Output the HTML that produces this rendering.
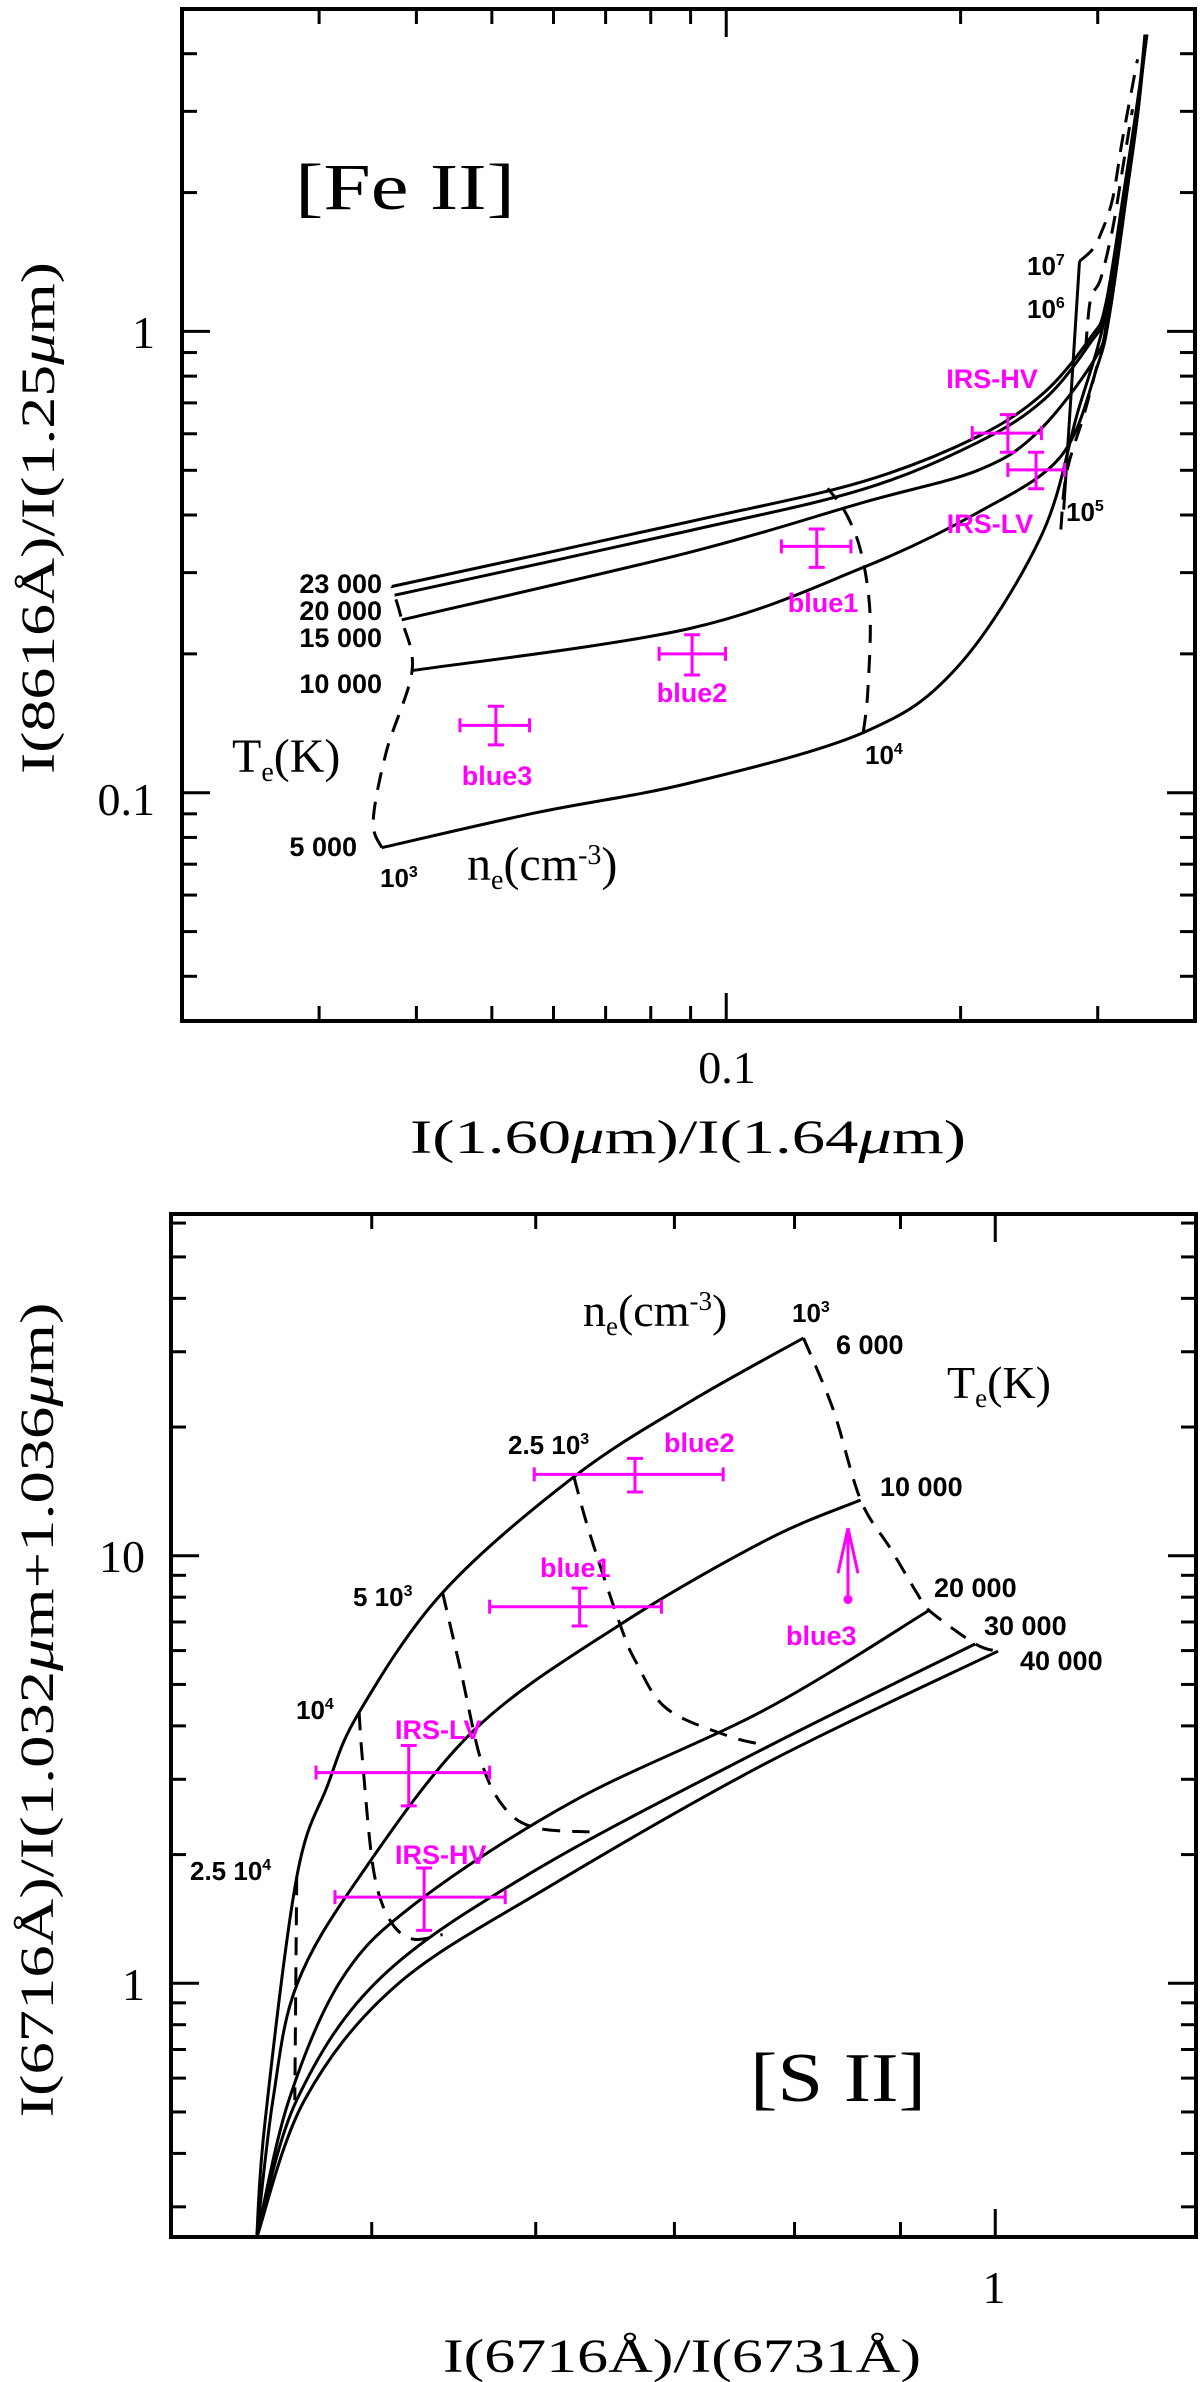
<!DOCTYPE html>
<html><head><meta charset="utf-8"><title>[Fe II] and [S II] diagnostic diagrams</title>
<style>
html,body{margin:0;padding:0;background:#fff;}
svg{display:block;}
.serif{font-family:"Liberation Serif",serif;}
.lab{font-family:"Liberation Sans",sans-serif;font-weight:bold;font-size:27px;fill:#000;}
.sup{font-family:"Liberation Sans",sans-serif;font-weight:bold;font-size:26px;fill:#000;}
.mag{font-family:"Liberation Sans",sans-serif;font-weight:bold;font-size:27px;fill:#ff00ff;}
</style></head>
<body>
<svg id="fig" width="1200" height="2382" viewBox="0 0 1200 2382" xmlns="http://www.w3.org/2000/svg">
<rect width="1200" height="2382" fill="#fff"/>
<g id="p1"></g>
<g id="p2"></g>

<g>
<text class="serif" x="295" y="209" font-size="66" textLength="220" lengthAdjust="spacingAndGlyphs">[Fe II]</text>
<text class="serif" font-size="48" transform="translate(54,518) rotate(-90)" text-anchor="middle" textLength="512" lengthAdjust="spacingAndGlyphs">I(8616Å)/I(1.25<tspan font-style="italic">μ</tspan>m)</text>
<text class="serif" font-size="48" x="410" y="1153" textLength="556" lengthAdjust="spacingAndGlyphs">I(1.60<tspan font-style="italic">μ</tspan>m)/I(1.64<tspan font-style="italic">μ</tspan>m)</text>
<text class="serif" font-size="46" x="155" y="348" text-anchor="end">1</text>
<text class="serif" font-size="46" x="155" y="815" text-anchor="end">0.1</text>
<text class="serif" font-size="46" x="727" y="1083" text-anchor="middle">0.1</text>
<text class="serif" font-size="48" x="232" y="772">T<tspan font-size="28" dy="9">e</tspan><tspan dy="-9">(K)</tspan></text>
<text class="serif" font-size="48" x="467" y="880">n<tspan font-size="28" dy="9">e</tspan><tspan dy="-9">(cm</tspan><tspan font-size="28" dy="-16">-3</tspan><tspan dy="16">)</tspan></text>
<text class="lab" x="382" y="593" text-anchor="end">23 000</text>
<text class="lab" x="382" y="620" text-anchor="end">20 000</text>
<text class="lab" x="382" y="647" text-anchor="end">15 000</text>
<text class="lab" x="382" y="693" text-anchor="end">10 000</text>
<text class="lab" x="357" y="856" text-anchor="end">5 000</text>
<text class="sup" x="380" y="887">10<tspan font-size="16" dy="-10">3</tspan></text>
<text class="sup" x="865" y="764">10<tspan font-size="16" dy="-10">4</tspan></text>
<text class="sup" x="1066" y="521">10<tspan font-size="16" dy="-10">5</tspan></text>
<text class="sup" x="1027" y="318">10<tspan font-size="16" dy="-10">6</tspan></text>
<text class="sup" x="1027" y="275">10<tspan font-size="16" dy="-10">7</tspan></text>
<text class="mag" x="823" y="612" text-anchor="middle">blue1</text>
<text class="mag" x="692" y="702" text-anchor="middle">blue2</text>
<text class="mag" x="497" y="785" text-anchor="middle">blue3</text>
<text class="mag" x="992" y="388" text-anchor="middle">IRS-HV</text>
<text class="mag" x="990" y="533" text-anchor="middle">IRS-LV</text>
</g>

<g>
<text class="serif" x="750" y="2101" font-size="70" textLength="176" lengthAdjust="spacingAndGlyphs">[S II]</text>
<text class="serif" font-size="48" transform="translate(53,1710) rotate(-90)" text-anchor="middle" textLength="815" lengthAdjust="spacingAndGlyphs">I(6716Å)/I(1.032<tspan font-style="italic">μ</tspan>m+1.036<tspan font-style="italic">μ</tspan>m)</text>
<text class="serif" font-size="48" x="443" y="2372" textLength="478" lengthAdjust="spacingAndGlyphs">I(6716Å)/I(6731Å)</text>
<text class="serif" font-size="46" x="145" y="1572" text-anchor="end">10</text>
<text class="serif" font-size="46" x="145" y="2000" text-anchor="end">1</text>
<text class="serif" font-size="46" x="994" y="2303" text-anchor="middle">1</text>
<text class="serif" font-size="46" x="583" y="1326">n<tspan font-size="27" dy="9">e</tspan><tspan dy="-9">(cm</tspan><tspan font-size="27" dy="-16">-3</tspan><tspan dy="16">)</tspan></text>
<text class="serif" font-size="46" x="947" y="1398">T<tspan font-size="27" dy="9">e</tspan><tspan dy="-9">(K)</tspan></text>
<text class="sup" x="792" y="1322">10<tspan font-size="16" dy="-10">3</tspan></text>
<text class="sup" x="508" y="1454">2.5 10<tspan font-size="16" dy="-10">3</tspan></text>
<text class="sup" x="353" y="1606">5 10<tspan font-size="16" dy="-10">3</tspan></text>
<text class="sup" x="296" y="1719">10<tspan font-size="16" dy="-10">4</tspan></text>
<text class="sup" x="190" y="1880">2.5 10<tspan font-size="16" dy="-10">4</tspan></text>
<text class="lab" x="836" y="1354">6 000</text>
<text class="lab" x="880" y="1496">10 000</text>
<text class="lab" x="934" y="1597">20 000</text>
<text class="lab" x="984" y="1635">30 000</text>
<text class="lab" x="1020" y="1670">40 000</text>
<text class="mag" x="664" y="1452">blue2</text>
<text class="mag" x="540" y="1577">blue1</text>
<text class="mag" x="786" y="1645">blue3</text>
<text class="mag" x="395" y="1739">IRS-LV</text>
<text class="mag" x="395" y="1864">IRS-HV</text>
</g>
</svg>
<script>
// ---------- Fe II panel data ----------
var feT5000  = [[0.0361,0.076],[0.057,0.0905],[0.0898,0.105],[0.150,0.135],[0.198,0.187],[0.2536,0.359],[0.2827,0.667],[0.306,1.06],[0.325,2.0],[0.337,3.0],[0.345,4.4]];
var feT10000 = [[0.0395,0.184],[0.0898,0.227],[0.150,0.308],[0.2105,0.405],[0.269,0.536],[0.2996,0.84],[0.311,1.1],[0.327,2.0],[0.338,3.0],[0.345,4.4]];
var feT15000 = [[0.0383,0.237],[0.0898,0.332],[0.150,0.426],[0.2105,0.50],[0.251,0.604],[0.2972,0.87],[0.309,1.08],[0.326,2.0],[0.338,3.0],[0.346,4.4]];
var feT20000 = [[0.0375,0.268],[0.0898,0.370],[0.150,0.455],[0.2105,0.575],[0.256,0.712],[0.2937,0.946],[0.308,1.12],[0.325,2.0],[0.337,3.0],[0.347,4.4]];
var feT23000 = [[0.0372,0.280],[0.0898,0.387],[0.150,0.473],[0.2105,0.592],[0.256,0.737],[0.2937,0.97],[0.307,1.14],[0.324,2.0],[0.336,3.0],[0.347,4.4]];
var feN1e3 = [[0.0361,0.076],[0.0352,0.0869],[0.0366,0.1227],[0.0395,0.184],[0.0383,0.237],[0.0375,0.268],[0.0372,0.280]];
var feN1e4 = [[0.150,0.135],[0.152,0.166],[0.153,0.245],[0.149,0.332],[0.1425,0.403],[0.135,0.457]];
var feN1e5 = [[0.269,0.372],[0.2736,0.494],[0.2886,0.667],[0.3016,0.883],[0.3088,1.01]];
var feN1e6solid = [[0.2713,0.411],[0.2843,1.419]];
var feN1e6 = [[0.2894,0.914],[0.2937,1.173],[0.3025,1.297],[0.3134,1.664],[0.3228,2.245],[0.3325,3.03]];
var feN1e7 = [[0.2843,1.419],[0.2954,1.506],[0.3025,1.623],[0.3134,1.933],[0.3228,2.61],[0.3375,3.89]];
var fePtNames = ['blue1','blue2','blue3','irs-hv','irs-lv'];
var fePtX   = [0.1307,0.0904,0.0506,0.230,0.250];
var fePtXlo = [0.1177,0.0820,0.0455,0.207,0.230];
var fePtXhi = [0.1446,0.0998,0.0559,0.254,0.272];
var fePtY   = [0.342,0.200,0.140,0.602,0.501];
var fePtYlo = [0.308,0.180,0.127,0.547,0.456];
var fePtYhi = [0.373,0.220,0.154,0.660,0.547];
var feXTicksMajor = [0.1];
var feXTicksMinor = [0.03,0.04,0.05,0.06,0.07,0.08,0.09,0.2,0.3];
var feYTicksMajor = [0.1,1];
var feYTicksMinor = [0.04,0.05,0.06,0.07,0.08,0.09,0.2,0.3,0.4,0.5,0.6,0.7,0.8,0.9,2,3,4];

// ---------- S II panel data ----------
var sT6000  = [[0.440,0.254],[0.444,0.471],[0.460,1.77],[0.476,2.90],[0.493,4.30],[0.541,8.20],[0.626,15.3],[0.712,22.9],[0.808,32.3]];
var sT10000 = [[0.440,0.254],[0.448,0.533],[0.460,0.99],[0.493,1.77],[0.560,3.90],[0.659,6.90],[0.776,10.9],[0.861,13.5]];
var sT20000 = [[0.440,0.254],[0.456,0.533],[0.484,1.03],[0.527,1.56],[0.626,2.67],[0.776,4.39],[0.929,7.45]];
var sT30000 = [[0.440,0.254],[0.460,0.533],[0.505,1.03],[0.600,1.84],[0.776,3.57],[0.978,6.22]];
var sT40000 = [[0.440,0.254],[0.464,0.533],[0.514,0.99],[0.610,1.69],[0.776,3.28],[1.003,5.98]];
var sN1e3   = [[0.808,32.3],[0.835,22.0],[0.861,13.5],[0.890,10.4],[0.917,8.15],[0.929,7.45],[0.978,6.22],[1.003,5.98]];
var sN2p5e3 = [[0.626,15.3],[0.637,11.3],[0.659,6.9],[0.671,5.62],[0.694,4.39],[0.743,3.79],[0.776,3.6]];
var sN5e3   = [[0.541,8.20],[0.552,5.39],[0.565,3.28],[0.580,2.56],[0.600,2.31],[0.637,2.26]];
var sN1e4   = [[0.493,4.30],[0.495,3.28],[0.501,1.84],[0.510,1.41],[0.523,1.27],[0.541,1.30]];
var sN2p5e4 = [[0.460,1.77],[0.459,0.533]];
var sPtNames = ['blue2','blue1','irs-lv','irs-hv'];
var sPtX   = [0.670,0.630,0.521,0.530];
var sPtXlo = [0.599,0.570,0.470,0.480];
var sPtXhi = [0.739,0.690,0.570,0.580];
var sPtY   = [15.5,7.6,3.11,1.59];
var sPtYlo = [14.1,6.85,2.6,1.33];
var sPtYhi = [16.9,8.4,3.6,1.86];
var sLimX = [0.849];
var sLimY = [7.9];
var sLimTop = [11.6];
var sXTicksMajor = [1];
var sXTicksMinor = [0.5,0.6,0.7,0.8,0.9];
var sYTicksMajor = [1,10];
var sYTicksMinor = [0.3,0.4,0.5,0.6,0.7,0.8,0.9,2,3,4,5,6,7,8,9,20,30,40,50,60];

var NS = 'http://www.w3.org/2000/svg';
function mk(tag, parent, attrs) {
  var e = document.createElementNS(NS, tag);
  for (var k in attrs) e.setAttribute(k, attrs[k]);
  parent.appendChild(e);
  return e;
}
function logAxis(p0, p1, v0, v1) {
  var a = Math.log10(v0), b = Math.log10(v1);
  return function (v) { return p0 + (p1 - p0) * (Math.log10(v) - a) / (b - a); };
}

function panel(g, box, X, Y, xMaj, xMin, yMaj, yMin, prefix) {
  var L = box[0], R = box[1], T = box[2], B = box[3];
  function tick(x1, y1, x2, y2, nm) {
    var t = mk('line', g, {x1: x1, y1: y1, x2: x2, y2: y2, stroke: '#000', 'stroke-width': 3});
    
    
  }
  xMaj.forEach(function (v) { var x = X(v); tick(x, B, x, B - 28, prefix + '-x-major-tick'); tick(x, T, x, T + 28, prefix + '-x-major-tick-top'); });
  xMin.forEach(function (v) { var x = X(v); tick(x, B, x, B - 15, prefix + '-x-minor-tick'); tick(x, T, x, T + 15, prefix + '-x-minor-tick-top'); });
  yMaj.forEach(function (v) { var y = Y(v); tick(L, y, L + 28, y, prefix + '-y-major-tick'); tick(R, y, R - 28, y, prefix + '-y-major-tick-right'); });
  yMin.forEach(function (v) { var y = Y(v); tick(L, y, L + 15, y, prefix + '-y-minor-tick'); tick(R, y, R - 15, y, prefix + '-y-minor-tick-right'); });
  var f = mk('rect', g, {x: L, y: T, width: R - L, height: B - T, fill: 'none', stroke: '#000', 'stroke-width': 4});
  
  
}
function curve(g, pts, X, Y, dashed, nm) {
  var P = pts.map(function (p) { return [X(p[0]), Y(p[1])]; });
  var d = 'M' + P[0][0].toFixed(1) + ' ' + P[0][1].toFixed(1);
  for (var i = 0; i < P.length - 1; i++) {
    var p0 = P[i - 1] || P[i], p1 = P[i], p2 = P[i + 1], p3 = P[i + 2] || P[i + 1];
    var c1x = p1[0] + (p2[0] - p0[0]) / 6, c1y = p1[1] + (p2[1] - p0[1]) / 6;
    var c2x = p2[0] - (p3[0] - p1[0]) / 6, c2y = p2[1] - (p3[1] - p1[1]) / 6;
    d += ' C' + c1x.toFixed(1) + ' ' + c1y.toFixed(1) + ' ' + c2x.toFixed(1) + ' ' + c2y.toFixed(1) + ' ' + p2[0].toFixed(1) + ' ' + p2[1].toFixed(1);
  }
  var a = {d: d, fill: 'none', stroke: '#000', 'stroke-width': 3, 'stroke-linejoin': 'round'};
  if (dashed) a['stroke-dasharray'] = '18 12';
  var p = mk('path', g, a);
  
  
}
function errPoint(g, X, Y, x, xl, xh, y, yl, yh, nm) {
  var c = mk('g', g, {stroke: '#ff00ff', 'stroke-width': 3, fill: 'none'});
  
  
  var cx = X(x), cy = Y(y), x1 = X(xl), x2 = X(xh), y1 = Y(yl), y2 = Y(yh);
  mk('line', c, {x1: x1, y1: cy, x2: x2, y2: cy});
  mk('line', c, {x1: cx, y1: y1, x2: cx, y2: y2});
  mk('line', c, {x1: x1, y1: cy - 7, x2: x1, y2: cy + 7});
  mk('line', c, {x1: x2, y1: cy - 7, x2: x2, y2: cy + 7});
  mk('line', c, {x1: cx - 8, y1: y1, x2: cx + 8, y2: y1});
  mk('line', c, {x1: cx - 8, y1: y2, x2: cx + 8, y2: y2});
}

var g1 = document.getElementById('p1');
var X1 = logAxis(182, 1195, 0.02, 0.4), Y1 = logAxis(1021, 9, 0.032, 5);
panel(g1, [182, 1195, 9, 1021], X1, Y1, feXTicksMajor, feXTicksMinor, feYTicksMajor, feYTicksMinor, 'fe');
curve(g1, feT5000, X1, Y1, false, 'fe-curve-te-5000');
curve(g1, feT10000, X1, Y1, false, 'fe-curve-te-10000');
curve(g1, feT15000, X1, Y1, false, 'fe-curve-te-15000');
curve(g1, feT20000, X1, Y1, false, 'fe-curve-te-20000');
curve(g1, feT23000, X1, Y1, false, 'fe-curve-te-23000');
curve(g1, feN1e3, X1, Y1, true, 'fe-curve-ne-1e3');
curve(g1, feN1e4, X1, Y1, true, 'fe-curve-ne-1e4');
curve(g1, feN1e5, X1, Y1, true, 'fe-curve-ne-1e5');
curve(g1, feN1e6solid, X1, Y1, false, 'fe-curve-ne-1e6-solid');
curve(g1, feN1e6, X1, Y1, true, 'fe-curve-ne-1e6');
curve(g1, feN1e7, X1, Y1, true, 'fe-curve-ne-1e7');
for (var i = 0; i < fePtX.length; i++) {
  errPoint(g1, X1, Y1, fePtX[i], fePtXlo[i], fePtXhi[i], fePtY[i], fePtYlo[i], fePtYhi[i], 'fe-point-' + fePtNames[i]);
}

var g2 = document.getElementById('p2');
var X2 = logAxis(171, 1196, 0.4, 1.25), Y2 = logAxis(2237, 1214, 0.255, 63);
panel(g2, [171, 1196, 1214, 2237], X2, Y2, sXTicksMajor, sXTicksMinor, sYTicksMajor, sYTicksMinor, 's');
curve(g2, sT6000, X2, Y2, false, 's-curve-te-6000');
curve(g2, sT10000, X2, Y2, false, 's-curve-te-10000');
curve(g2, sT20000, X2, Y2, false, 's-curve-te-20000');
curve(g2, sT30000, X2, Y2, false, 's-curve-te-30000');
curve(g2, sT40000, X2, Y2, false, 's-curve-te-40000');
curve(g2, sN1e3, X2, Y2, true, 's-curve-ne-1e3');
curve(g2, sN2p5e3, X2, Y2, true, 's-curve-ne-2.5e3');
curve(g2, sN5e3, X2, Y2, true, 's-curve-ne-5e3');
curve(g2, sN1e4, X2, Y2, true, 's-curve-ne-1e4');
curve(g2, sN2p5e4, X2, Y2, true, 's-curve-ne-2.5e4');
for (var j = 0; j < sPtX.length; j++) {
  errPoint(g2, X2, Y2, sPtX[j], sPtXlo[j], sPtXhi[j], sPtY[j], sPtYlo[j], sPtYhi[j], 's-point-' + sPtNames[j]);
}
for (var k = 0; k < sLimX.length; k++) {
  var ax = X2(sLimX[k]), ay0 = Y2(sLimY[k]), ay1 = Y2(sLimTop[k]);
  var ar = mk('g', g2, {stroke: '#ff00ff', 'stroke-width': 3, fill: '#ff00ff'});
  
  
  mk('line', ar, {x1: ax, y1: ay0, x2: ax, y2: ay1});
  mk('polyline', ar, {points: (ax - 10) + ',' + (ay1 + 45) + ' ' + ax + ',' + ay1 + ' ' + (ax + 10) + ',' + (ay1 + 45), fill: 'none'});
  mk('circle', ar, {cx: ax, cy: ay0, r: 3});
}
</script>
</body></html>
